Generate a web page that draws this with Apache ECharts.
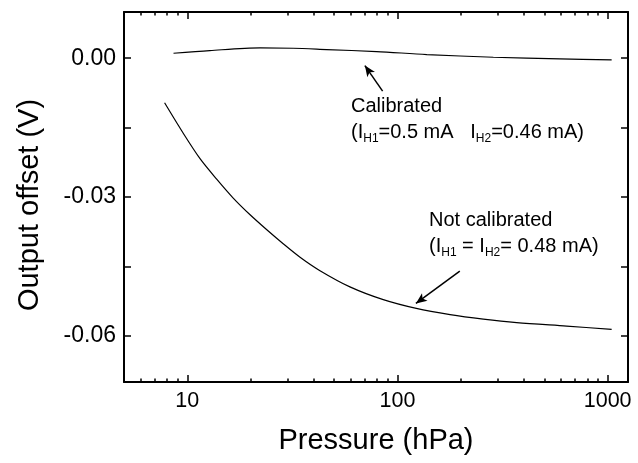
<!DOCTYPE html>
<html>
<head>
<meta charset="utf-8">
<title>Output offset vs pressure</title>
<script src="https://cdn.jsdelivr.net/npm/echarts@6/dist/echarts.min.js"></script>
<style>
  html, body { margin: 0; padding: 0; background: #fff; }
  #chart { width: 638px; height: 463px; }
</style>
</head>
<body>
<div id="chart"></div>
<script>
// values
const calPressure = [8.6, 12.8, 22.2, 31.9, 46, 79.6, 138, 286, 593, 1045];
const calOffset = [0.00108, 0.00166, 0.00224, 0.00216, 0.00188, 0.00145, 0.0008, 0.00022, -0.00013, -0.00035];

const rawPressure = [7.8, 9.6, 11.5, 13.8, 16.5, 19.9, 23.9, 28.6, 34.4, 42.8, 59.4, 85.6, 123, 178, 256, 369, 638, 1045];
const rawOffset = [-0.00963, -0.01632, -0.02171, -0.02614, -0.03017, -0.03384, -0.03708, -0.0401, -0.04302, -0.04593,
    -0.04943, -0.05219, -0.05409, -0.05543, -0.0564, -0.05715, -0.05791, -0.05862];

const xMajorTicks = [10, 100, 1000];
const xMinorTicks = [6, 7, 8, 9, 20, 30, 40, 50, 60, 70, 80, 90, 200, 300, 400, 500, 600, 700, 800, 900];
const yTicks = [-0.06, -0.045, -0.03, -0.015, 0];
const yLabels = [-0.06, -0.03, 0];

const FONT = 'Liberation Sans, Arial, sans-serif';

const toPairs = (xs, ys) => xs.map((x, i) => [x, ys[i]]);

const chart = echarts.init(document.getElementById('chart'));

const lineColor = '#000';
const axisLine = { show: true, onZero: false, lineStyle: { color: lineColor, width: 2 } };

const xBase = (position, ticks, tickLen, withLabels, lineOn) => ({
    type: 'log',
    logBase: 10,
    min: 5,
    max: 1250,
    position: position,
    axisLine: lineOn ? axisLine : { show: false, onZero: false },
    axisTick: {
        show: true,
        inside: true,
        length: tickLen,
        customValues: ticks,
        lineStyle: { color: lineColor, width: 1.5 },
    },
    axisLabel: withLabels ? {
        show: true,
        customValues: ticks,
        formatter: (v) => String(Math.round(v)),
        fontFamily: FONT,
        fontSize: 21.5,
        color: '#000',
        margin: 8,
    } : { show: false },
    splitLine: { show: false },
    minorTick: { show: false },
});

const option = {
    animation: false,
    backgroundColor: '#fff',
    grid: { left: 124, right: 10, top: 12, bottom: 81, containLabel: false },
    xAxis: [
        Object.assign(xBase('bottom', xMajorTicks, 7, true, true), {
            name: 'Pressure (hPa)',
            nameLocation: 'middle',
            nameGap: 44,
            nameTextStyle: { fontFamily: FONT, fontSize: 29, color: '#000' },
        }),
        xBase('bottom', xMinorTicks, 3.5, false, false),
        xBase('top', xMajorTicks, 7, false, true),
        xBase('top', xMinorTicks, 3.5, false, false),
    ],
    yAxis: [
        {
            type: 'value',
            min: -0.07,
            max: 0.01,
            position: 'left',
            axisLine: axisLine,
            axisTick: {
                show: true,
                inside: true,
                length: 7,
                customValues: yTicks,
                lineStyle: { color: lineColor, width: 1.5 },
            },
            axisLabel: {
                customValues: yLabels,
                formatter: (v) => v.toFixed(2),
                fontFamily: FONT,
                fontSize: 23,
                color: '#000',
                margin: 8,
            },
            splitLine: { show: false },
            name: 'Output offset (V)',
            nameLocation: 'middle',
            nameGap: 80,
            nameTextStyle: { fontFamily: FONT, fontSize: 29, color: '#000', padding: [0, 16, 0, 0] },
        },
        {
            type: 'value',
            min: -0.07,
            max: 0.01,
            position: 'right',
            axisLine: axisLine,
            axisTick: {
                show: true,
                inside: true,
                length: 7,
                customValues: yTicks,
                lineStyle: { color: lineColor, width: 1.5 },
            },
            axisLabel: { show: false },
            splitLine: { show: false },
        },
    ],
    series: [
        {
            name: 'Calibrated',
            type: 'line',
            data: toPairs(calPressure, calOffset),
            showSymbol: false,
            smooth: 0.3,
            lineStyle: { color: lineColor, width: 1.2 },
            silent: true,
            markLine: {
                silent: true,
                symbol: ['none', 'arrow'],
                symbolSize: [7, 11],
                label: { show: false },
                lineStyle: { color: lineColor, width: 1.5, type: 'solid' },
                data: [[{ coord: [85, -0.00712] }, { coord: [70, -0.00158] }]],
            },
        },
        {
            name: 'Not calibrated',
            type: 'line',
            data: toPairs(rawPressure, rawOffset),
            showSymbol: false,
            smooth: 0.3,
            lineStyle: { color: lineColor, width: 1.2 },
            silent: true,
            markLine: {
                silent: true,
                symbol: ['none', 'arrow'],
                symbolSize: [7, 11],
                label: { show: false },
                lineStyle: { color: lineColor, width: 1.5, type: 'solid' },
                data: [[{ coord: [198, -0.04604] }, { coord: [122.4, -0.05301] }]],
            },
        },
    ],
};

const noteRich = {
    n: { fontFamily: FONT, fontSize: 20, lineHeight: 26, fill: '#000' },
    s: { fontFamily: FONT, fontSize: 12, lineHeight: 12, verticalAlign: 'bottom', fill: '#000' },
};

option.graphic = [
    {
        type: 'text',
        left: 351,
        top: 96,
        silent: true,
        style: {
            text: '{n|Calibrated}\n{n|(I}{s|H1}{n|=0.5 mA   I}{s|H2}{n|=0.46 mA)}',
            rich: noteRich,
        },
    },
    {
        type: 'text',
        left: 429,
        top: 210,
        silent: true,
        style: {
            text: '{n|Not calibrated}\n{n|(I}{s|H1}{n| = I}{s|H2}{n|= 0.48 mA)}',
            rich: noteRich,
        },
    },
];

chart.setOption(option);
</script>
</body>
</html>
